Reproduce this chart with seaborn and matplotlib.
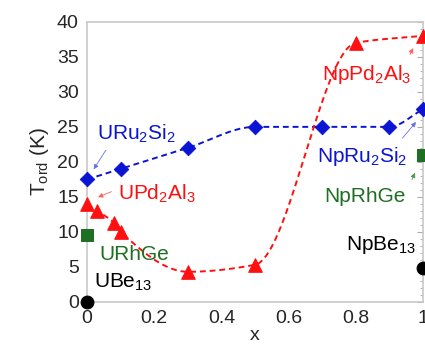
import numpy as np
import pandas as pd
import matplotlib
matplotlib.use("Agg")
import matplotlib.pyplot as plt
import seaborn as sns

# data
uru_x = [0.0, 0.1, 0.3, 0.5, 0.7, 0.9, 1.0]
uru_y = [17.5, 19.0, 22.0, 25.0, 25.0, 25.0, 27.5]
upd_x = [0.0, 0.03, 0.08, 0.1, 0.3, 0.5, 0.8, 1.0]
upd_y = [14.0, 13.0, 11.3, 10.0, 4.3, 5.3, 37.0, 38.0]
rhge_x = [0.0, 1.0]
rhge_y = [9.5, 21.0]
be_x = [0.0, 1.0]
be_y = [0.0, 4.9]

blue = "#0a14d2"
red = "#ff1010"
green = "#1e6e23"


def smooth(x, y, n=300):
    # monotone cubic (pchip) used only to draw the connecting curve
    x = np.asarray(x, float); y = np.asarray(y, float)
    h = np.diff(x); d = np.diff(y) / h
    m = np.zeros_like(y)
    m[0], m[-1] = d[0], d[-1]
    for k in range(1, len(x) - 1):
        if d[k - 1] * d[k] > 0:
            w1 = 2 * h[k] + h[k - 1]; w2 = h[k] + 2 * h[k - 1]
            m[k] = (w1 + w2) / (w1 / d[k - 1] + w2 / d[k])
    xs = np.linspace(x[0], x[-1], n)
    idx = np.clip(np.searchsorted(x, xs) - 1, 0, len(x) - 2)
    t = (xs - x[idx]) / h[idx]
    h00 = 2 * t**3 - 3 * t**2 + 1; h10 = t**3 - 2 * t**2 + t
    h01 = -2 * t**3 + 3 * t**2; h11 = t**3 - t**2
    ys = h00 * y[idx] + h10 * h[idx] * m[idx] + h01 * y[idx + 1] + h11 * h[idx] * m[idx + 1]
    return xs, ys


sns.set_style("white")
plt.rcParams['font.family'] = ['Liberation Sans', 'DejaVu Sans']
plt.rcParams['mathtext.fontset'] = 'custom'
plt.rcParams['mathtext.rm'] = 'Liberation Sans'
plt.rcParams['mathtext.it'] = 'Liberation Sans'

fig = plt.figure(figsize=(4.25, 3.47), dpi=100)
ax = fig.add_axes([0.205, 0.13, 0.79, 0.807])

for xs, ys, c in [(uru_x, uru_y, blue), (upd_x, upd_y, red)]:
    sx, sy = smooth(xs, ys)
    ax.plot(sx, sy, color=c, lw=1.4, ls=(0, (3, 2)), zorder=2)

sns.scatterplot(x=uru_x, y=uru_y, marker="D", s=55, color=blue, edgecolor=blue, ax=ax, zorder=3, clip_on=False)
sns.scatterplot(x=upd_x, y=upd_y, marker="^", s=95, color=red, edgecolor=red, ax=ax, zorder=3, clip_on=False)
sns.scatterplot(x=rhge_x, y=rhge_y, marker="s", s=85, color=green, edgecolor=green, ax=ax, zorder=3, clip_on=False)
sns.scatterplot(x=be_x, y=be_y, marker="o", s=85, color="black", edgecolor="black", ax=ax, zorder=3, clip_on=False)

ax.set_xlim(0, 1)
ax.set_ylim(0, 40)
ax.set_xticks([0, 0.2, 0.4, 0.6, 0.8, 1.0])
ax.set_xticklabels(["0", "0.2", "0.4", "0.6", "0.8", "1"])
ax.set_yticks(range(0, 45, 5))
ax.set_xticks(np.arange(0, 1.01, 0.05), minor=True)
ax.set_yticks(np.arange(0, 40.1, 1), minor=True)
ax.tick_params(which="both", direction="in", color="#aaaaaa", right=True, labelsize=14, pad=6)
ax.tick_params(which="major", length=4, width=0.8)
ax.tick_params(which="minor", length=2, width=0.6)
for sp in ax.spines.values():
    sp.set_color("#c8c8c8")
    sp.set_linewidth(1.2)

ax.set_xlabel("x", fontsize=14, labelpad=0)
ax.set_ylabel("T$_{ord}$ (K)", fontsize=15, labelpad=4)

fs = 15
arr = dict(arrowstyle="-|>", lw=0.6, mutation_scale=7)


def arrow(start, end, c):
    ax.annotate("", xy=end, xytext=start, annotation_clip=False,
                arrowprops=dict(color=c, **arr))


ax.text(0.03, 23.1, "URu$_2$Si$_2$", color=blue, fontsize=fs)
arrow((0.06, 22.0), (0.015, 18.6), "#6a70e0")
ax.text(0.093, 14.6, "UPd$_2$Al$_3$", color=red, fontsize=fs)
arrow((0.08, 15.9), (0.025, 14.8), "#ff6060")
ax.text(0.036, 6.0, "URhGe", color=green, fontsize=fs)
ax.text(0.02, 2.0, "UBe$_{13}$", color="black", fontsize=fs)
ax.text(0.70, 31.7, "NpPd$_2$Al$_3$", color=red, fontsize=fs)
arrow((0.958, 35.0), (0.975, 36.6), "#ff6060")
ax.text(0.684, 20.0, "NpRu$_2$Si$_2$", color=blue, fontsize=fs)
arrow((0.934, 23.1), (0.985, 26.0), "#6a70e0")
ax.text(0.707, 14.3, "NpRhGe", color=green, fontsize=fs)
arrow((0.964, 17.1), (0.98, 18.8), "#4a9a50")
ax.text(0.77, 7.4, "NpBe$_{13}$", color="black", fontsize=fs)

fig.savefig("out.png", dpi=100)
